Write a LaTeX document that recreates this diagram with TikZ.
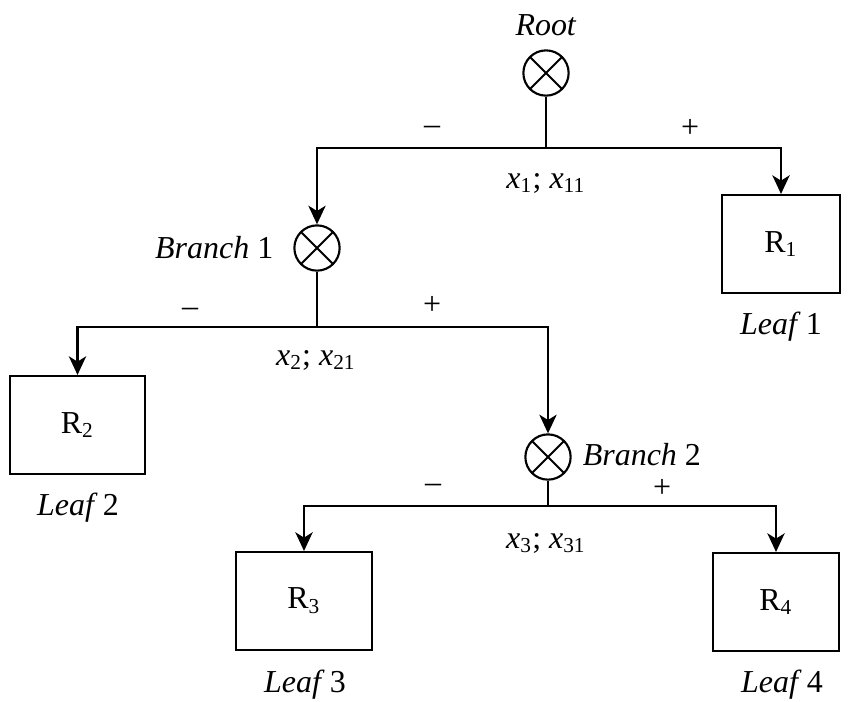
\documentclass[tikz,border=0pt]{standalone}
\usepackage{fontspec}
\setmainfont{Liberation Serif}
\usepackage{tikz}
\usetikzlibrary{positioning}
\usetikzlibrary{arrows.meta, calc}

\tikzset{
    split/.style={circle, draw, line width=0.8pt, minimum size=17pt, inner sep=0pt,
        path picture={
            \draw[line width=0.7pt] (path picture bounding box.north west) -- (path picture bounding box.south east)
                (path picture bounding box.north east) -- (path picture bounding box.south west);
        }},
    leaf/.style={draw, line width=0.8pt, minimum height=36.8pt, inner sep=0pt},
    sign/.style={inner sep=0pt},
    link/.style={line width=0.8pt},
    drop/.style={line width=0.8pt, -{Stealth[length=7pt, width=6.5pt, inset=2pt]}}
}

\begin{document}
\begin{tikzpicture}[x=0.0132cm, y=-0.0132cm, font=\fontsize{12}{14}\selectfont]
            \useasboundingbox (0,0) rectangle (848,701);

            % split nodes
            \node[split] (root) at (546,73) {};
            \node[split] (b1) at (317,248) {};
            \node[split] (b2) at (548,457) {};
            \node (root-lbl) at (546,25) {\textit{Root}};
            \node[left=4pt of b1] (b1-lbl) {\textit{Branch} 1};
            \node[right=4pt of b2, inner sep=0pt, yshift=1pt] (b2-lbl) {\textit{Branch} 2};

            % leaves
            \node[leaf, minimum width=44.3pt] (r1) at (781,244) {R\textsubscript{1}};
            \node[leaf, minimum width=50.6pt] (r2) at (77.5,425) {R\textsubscript{2}};
            \node[leaf, minimum width=51pt] (r3) at (304,601) {R\textsubscript{3}};
            \node[leaf, minimum width=47.3pt] (r4) at (776,602) {R\textsubscript{4}};
            \node (l1) at (781,327) {\textit{Leaf}\,1};
            \node (l2) at (78,508) {\textit{Leaf}\,2};
            \node (l3) at (305,685) {\textit{Leaf}\,3};
            \node (l4) at (782,685) {\textit{Leaf}\,4};

            % junctions
            \coordinate (j1) at (546,148);
            \coordinate (j2) at (317,327);
            \coordinate (j3) at (548,506);

            \draw[link] (root) -- (j1);
            \draw[drop] (j1) -| (b1);
            \draw[drop] (j1) -| (r1);
            \draw[link] (b1) -- (j2);
            \draw[drop] (j2) -| (r2);
            \draw[drop] (j2) -| (b2);
            \draw[link] (b2) -- (j3);
            \draw[drop] (j3) -| (r3);
            \draw[drop] (j3) -| (r4);

            % split labels
            \node[sign] (s1-neg) at (432,130) {--};
            \node[sign] (s1-pos) at (690,128) {+};
            \node (s1-var) at (546,183) {\textit{x}\textsubscript{1}; \textit{x}\textsubscript{11}};
            \node[sign] (s2-neg) at (190,312) {--};
            \node[sign] (s2-pos) at (432,305) {+};
            \node (s2-var) at (316,360) {\textit{x}\textsubscript{2}; \textit{x}\textsubscript{21}};
            \node[sign] (s3-neg) at (433,488) {--};
            \node[sign] (s3-pos) at (662,488) {+};
            \node (s3-var) at (546,543) {\textit{x}\textsubscript{3}; \textit{x}\textsubscript{31}};
        \end{tikzpicture}
\end{document}
